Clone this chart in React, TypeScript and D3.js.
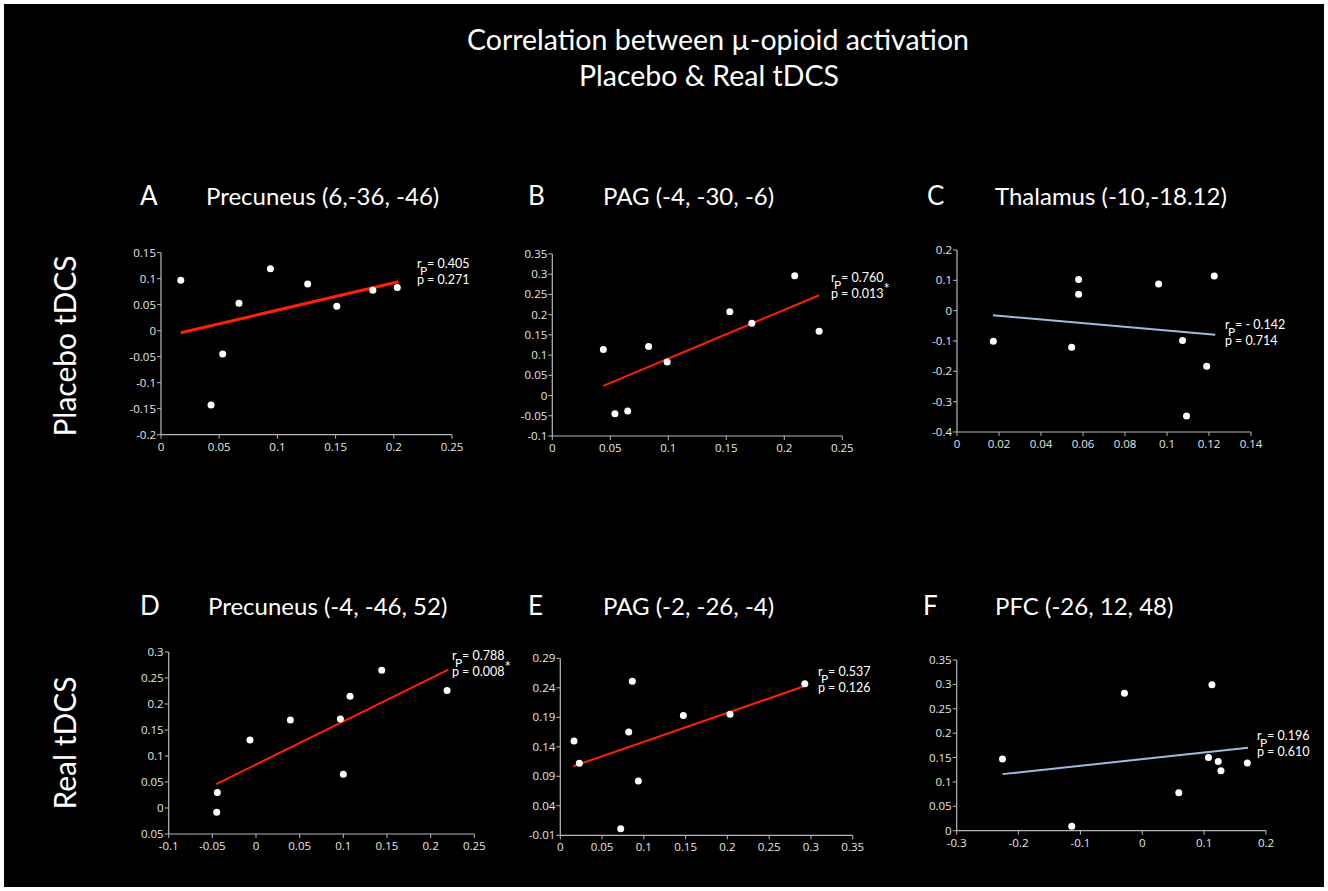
import React from "react";
import * as d3 from "d3";

// ---------- DATA ----------
const mainTitle = ["Correlation between µ-opioid activation", "Placebo & Real tDCS"];
const rowLabels = ["Placebo tDCS", "Real tDCS"];
const panelLetters = ["A", "B", "C", "D", "E", "F"];
const panelTitles = [
  "Precuneus (6,-36, -46)",
  "PAG (-4, -30, -6)",
  "Thalamus (-10,-18.12)",
  "Precuneus (-4, -46, 52)",
  "PAG (-2, -26, -4)",
  "PFC (-26, 12, 48)",
];

// A: Precuneus placebo
const aX = [0.017, 0.043, 0.053, 0.067, 0.094, 0.126, 0.151, 0.182, 0.203];
const aY = [0.097, -0.143, -0.045, 0.053, 0.119, 0.09, 0.047, 0.078, 0.083];
// B: PAG placebo
const bX = [0.044, 0.054, 0.065, 0.083, 0.099, 0.153, 0.172, 0.209, 0.23];
const bY = [0.114, -0.045, -0.038, 0.121, 0.083, 0.207, 0.179, 0.296, 0.159];
// C: Thalamus placebo
const cX = [0.0173, 0.0546, 0.0579, 0.0579, 0.096, 0.1074, 0.1093, 0.1189, 0.1225];
const cY = [-0.101, -0.121, 0.103, 0.054, 0.088, -0.098, -0.347, -0.183, 0.114];
// D: Precuneus real
const dX = [-0.045, -0.0443, -0.0069, 0.0393, 0.0966, 0.1, 0.1077, 0.144, 0.2188];
const dY = [-0.008, 0.03, 0.131, 0.169, 0.171, 0.065, 0.215, 0.265, 0.226];
// E: PAG real
const eX = [0.0164, 0.0228, 0.0723, 0.0819, 0.0862, 0.0934, 0.1473, 0.2032, 0.2927];
const eY = [0.15, 0.112, 0.001, 0.165, 0.251, 0.082, 0.193, 0.195, 0.247];
// F: PFC real
const fX = [-0.226, -0.114, -0.0288, 0.059, 0.107, 0.1126, 0.1228, 0.1272, 0.1698];
const fY = [0.147, 0.009, 0.282, 0.078, 0.15, 0.299, 0.142, 0.123, 0.139];

// regression line end points
const fitXs = [
  [0.017, 0.204],
  [0.044, 0.23],
  [0.0171, 0.123],
  [-0.0455, 0.2203],
  [0.0156, 0.2927],
  [-0.226, 0.171],
];
const fitYs = [
  [-0.004, 0.094],
  [0.024, 0.248],
  [-0.015, -0.079],
  [0.046, 0.266],
  [0.107, 0.243],
  [0.116, 0.17],
];

const rValues = ["0.405", "0.760", "- 0.142", "0.788", "0.537", "0.196"];
const pValues = ["0.271", "0.013", "0.714", "0.008", "0.126", "0.610"];
const pStars = ["", "*", "", "*", "", ""];

const xDomains = [[0, 0.25], [0, 0.25], [0, 0.14], [-0.1, 0.25], [0, 0.35], [-0.3, 0.2]];
const yDomains = [[-0.2, 0.15], [-0.1, 0.35], [-0.4, 0.2], [-0.05, 0.3], [-0.01, 0.29], [0, 0.35]];

const xTickLabels = [
  ["0", "0.05", "0.1", "0.15", "0.2", "0.25"],
  ["0", "0.05", "0.1", "0.15", "0.2", "0.25"],
  ["0", "0.02", "0.04", "0.06", "0.08", "0.1", "0.12", "0.14"],
  ["-0.1", "-0.05", "0", "0.05", "0.1", "0.15", "0.2", "0.25"],
  ["0", "0.05", "0.1", "0.15", "0.2", "0.25", "0.3", "0.35"],
  ["-0.3", "-0.2", "-0.1", "0", "0.1", "0.2"],
];
const yTickLabels = [
  ["-0.2", "-0.15", "-0.1", "-0.05", "0", "0.05", "0.1", "0.15"],
  ["-0.1", "-0.05", "0", "0.05", "0.1", "0.15", "0.2", "0.25", "0.3", "0.35"],
  ["-0.4", "-0.3", "-0.2", "-0.1", "0", "0.1", "0.2"],
  ["0.05", "0", "0.05", "0.1", "0.15", "0.2", "0.25", "0.3"],
  ["-0.01", "0.04", "0.09", "0.14", "0.19", "0.24", "0.29"],
  ["0", "0.05", "0.1", "0.15", "0.2", "0.25", "0.3", "0.35"],
];
const yTickValues = [
  [-0.2, -0.15, -0.1, -0.05, 0, 0.05, 0.1, 0.15],
  [-0.1, -0.05, 0, 0.05, 0.1, 0.15, 0.2, 0.25, 0.3, 0.35],
  [-0.4, -0.3, -0.2, -0.1, 0, 0.1, 0.2],
  [-0.05, 0, 0.05, 0.1, 0.15, 0.2, 0.25, 0.3],
  [-0.01, 0.04, 0.09, 0.14, 0.19, 0.24, 0.29],
  [0, 0.05, 0.1, 0.15, 0.2, 0.25, 0.3, 0.35],
];

const seriesX = [aX, bX, cX, dX, eX, fX];
const seriesY = [aY, bY, cY, dY, eY, fY];

// ---------- LAYOUT ----------
const plots = [
  { x0: 161, x1: 452, yTop: 252.7, yBot: 434.7, lx: 140, ly: 205, tx: 206, ty: 205, ax: 417, ay: 268 },
  { x0: 552.3, x1: 842.3, yTop: 254, yBot: 436, lx: 528, ly: 205, tx: 603, ty: 205, ax: 831, ay: 282 },
  { x0: 957, x1: 1251, yTop: 250, yBot: 432, lx: 927, ly: 205, tx: 995, ty: 205, ax: 1225, ay: 329 },
  { x0: 168.7, x1: 474.3, yTop: 652, yBot: 834, lx: 140, ly: 615, tx: 208, ty: 615, ax: 452, ay: 660 },
  { x0: 560.3, x1: 852.7, yTop: 658.3, yBot: 835.3, lx: 528, ly: 615, tx: 603, ty: 615, ax: 818, ay: 676 },
  { x0: 956.7, x1: 1266, yTop: 660, yBot: 830.7, lx: 923, ly: 615, tx: 995, ty: 615, ax: 1257, ay: 740 },
];
const lineColors = ["#ff2200", "#ff2200", "#9dbbe3", "#ff2200", "#ff2200", "#9dbbe3"];
const lineWidths = [3, 2, 2, 2, 2, 2];

const TITLE_FONT = "Lato, 'Open Sans', sans-serif";
const TICK_FONT = "'Open Sans', 'Noto Sans', sans-serif";

function Panel({ i }: { i: number }) {
  const p = plots[i];
  const x = d3.scaleLinear().domain(xDomains[i]).range([p.x0, p.x1]);
  const y = d3.scaleLinear().domain(yDomains[i]).range([p.yBot, p.yTop]);
  const [xd0, xd1] = xDomains[i];
  const nX = xTickLabels[i].length;
  const xTicks = xTickLabels[i].map((lab, k) => ({ v: xd0 + ((xd1 - xd0) * k) / (nX - 1), lab }));
  const line = d3
    .line<[number, number]>()
    .x((d) => x(d[0]))
    .y((d) => y(d[1]));
  const fit: [number, number][] = fitXs[i].map((v, k) => [v, fitYs[i][k]]);
  const axisColor = "#b8b8b8";
  return (
    <g>
      <text x={p.lx} y={p.ly} fill="#fff" fontFamily={TITLE_FONT} fontSize={26}>
        {panelLetters[i]}
      </text>
      <text x={p.tx} y={p.ty} fill="#fff" fontFamily={TITLE_FONT} fontSize={24}>
        {panelTitles[i]}
      </text>
      {/* axes */}
      <line x1={p.x0} x2={p.x0} y1={p.yTop} y2={p.yBot} stroke={axisColor} strokeWidth={1.2} />
      <line x1={p.x0} x2={p.x1} y1={p.yBot} y2={p.yBot} stroke={axisColor} strokeWidth={1.2} />
      {yTickValues[i].map((v, k) => (
        <g key={"y" + k}>
          <line x1={p.x0 - 4} x2={p.x0} y1={y(v)} y2={y(v)} stroke={axisColor} strokeWidth={1} />
          <text
            x={p.x0 - 5}
            y={y(v)}
            dy="0.35em"
            textAnchor="end"
            fill="#e6e6e6"
            fontFamily={TICK_FONT}
            fontSize={11.5}
          >
            {yTickLabels[i][k]}
          </text>
        </g>
      ))}
      {xTicks.map((t, k) => (
        <g key={"x" + k}>
          <line x1={x(t.v)} x2={x(t.v)} y1={p.yBot} y2={p.yBot + 4} stroke={axisColor} strokeWidth={1} />
          <text
            x={x(t.v)}
            y={p.yBot + 16}
            textAnchor="middle"
            fill="#e6e6e6"
            fontFamily={TICK_FONT}
            fontSize={11.5}
          >
            {t.lab}
          </text>
        </g>
      ))}
      {/* regression line */}
      <path d={line(fit) || ""} stroke={lineColors[i]} strokeWidth={lineWidths[i]} fill="none" />
      {/* points */}
      {seriesX[i].map((v, k) => (
        <circle key={k} cx={x(v)} cy={y(seriesY[i][k])} r={3.5} fill="#fff" />
      ))}
      {/* annotation */}
      <g fill="#fff" fontFamily={TITLE_FONT} fontSize={12.5}>
        <text x={p.ax} y={p.ay}>r</text>
        <text x={p.ax + 3} y={p.ay + 7} fontSize={12}>P</text>
        <text x={p.ax + 10} y={p.ay}>= {rValues[i]}</text>
        <text x={p.ax} y={p.ay + 16}>p</text>
        <text x={p.ax + 10} y={p.ay + 16}>
          = {pValues[i]}
          {pStars[i] ? (
            <tspan dy={-4} fontSize={15}>
              {pStars[i]}
            </tspan>
          ) : null}
        </text>
      </g>
    </g>
  );
}

export default function App() {
  return (
    <svg
      width={1328}
      height={891}
      style={{ position: "absolute", left: 0, top: 0, background: "#fff" }}
    >
      <rect x={4} y={4} width={1320} height={883} fill="#000" />
      <text x={718} y={50} textAnchor="middle" fill="#fff" fontFamily={TITLE_FONT} fontSize={28.5}>
        {mainTitle[0]}
      </text>
      <text x={709} y={86} textAnchor="middle" fill="#fff" fontFamily={TITLE_FONT} fontSize={28.5}>
        {mainTitle[1]}
      </text>
      <text
        transform="translate(76,346) rotate(-90)"
        textAnchor="middle"
        fill="#fff"
        fontFamily={TITLE_FONT}
        fontSize={30}
      >
        {rowLabels[0]}
      </text>
      <text
        transform="translate(76,743) rotate(-90)"
        textAnchor="middle"
        fill="#fff"
        fontFamily={TITLE_FONT}
        fontSize={30}
      >
        {rowLabels[1]}
      </text>
      {plots.map((_, i) => (
        <Panel key={i} i={i} />
      ))}
    </svg>
  );
}
